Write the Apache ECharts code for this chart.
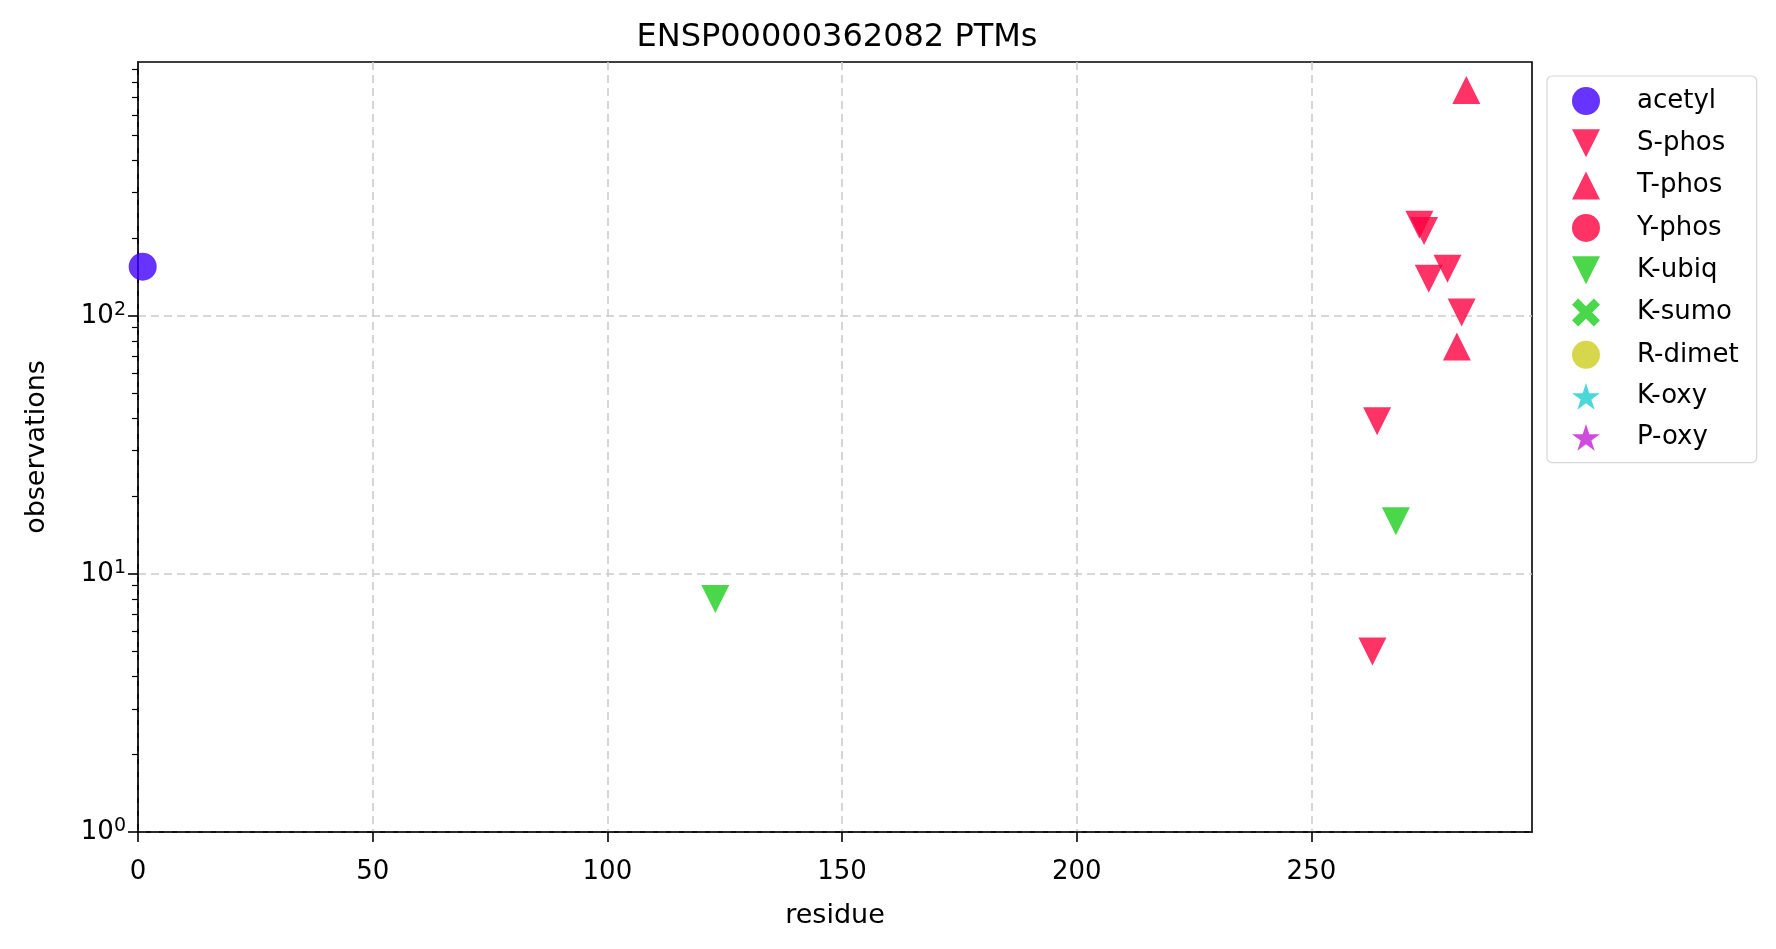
<!DOCTYPE html>
<html>
<head>
<meta charset="utf-8">
<script src="https://cdn.jsdelivr.net/npm/echarts@6/dist/echarts.min.js"></script>
<style>
html,body{margin:0;padding:0;background:#fff;}
#chart{width:1776px;height:949px;}
</style>
</head>
<body>
<div id="chart"></div>
<script>
// ---- data ----
const chartTitle = 'ENSP00000362082 PTMs';
const xLabel = 'residue';
const yLabel = 'observations';
const seriesNames = ['acetyl', 'S-phos', 'T-phos', 'Y-phos', 'K-ubiq', 'K-sumo', 'R-dimet', 'K-oxy', 'P-oxy'];
const acetyl = [[1, 155]];
const sPhos = [[263, 5], [264, 39], [273, 225], [274, 213], [275, 139], [279, 152], [282, 103]];
const tPhos = [[281, 76], [283, 750]];
const yPhos = [];
const kUbiq = [[123, 8], [268, 16]];
const kSumo = [];
const rDimet = [];
const kOxy = [];
const pOxy = [];
const xTicks = [0, 50, 100, 150, 200, 250];
const yMajorTicks = [1, 10, 100];
const yMinorTicks = [2, 3, 4, 5, 6, 7, 8, 9, 20, 30, 40, 50, 60, 70, 80, 90, 200, 300, 400, 500, 600, 700, 800, 900];

// ---- styles ----
const FONT = 'DejaVu Sans';
const triDown = 'path://M0,0 L2,0 L1,2 Z';
const triUp = 'path://M1,0 L2,2 L0,2 Z';
const xMark = 'path://M0.22,0 L0.5,0.28 L0.78,0 L1,0.22 L0.72,0.5 L1,0.78 L0.78,1 L0.5,0.72 L0.22,1 L0,0.78 L0.28,0.5 L0,0.22 Z';
const star = 'path://M50,0 L61.8,36.2 L100,36.2 L69.1,58.5 L80.9,95.1 L50,72.4 L19.1,95.1 L30.9,58.5 L0,36.2 L38.2,36.2 Z';
const seriesDefs = [
  {name: 'acetyl', data: acetyl, symbol: 'circle', color: 'rgba(64,0,255,0.8)', size: 28},
  {name: 'S-phos', data: sPhos, symbol: triDown, color: 'rgba(255,0,64,0.8)', size: 28},
  {name: 'T-phos', data: tPhos, symbol: triUp, color: 'rgba(255,0,64,0.8)', size: 28},
  {name: 'Y-phos', data: yPhos, symbol: 'circle', color: 'rgba(255,0,64,0.8)', size: 28},
  {name: 'K-ubiq', data: kUbiq, symbol: triDown, color: 'rgba(29,206,29,0.8)', size: 28},
  {name: 'K-sumo', data: kSumo, symbol: xMark, color: 'rgba(29,206,29,0.8)', size: 27},
  {name: 'R-dimet', data: rDimet, symbol: 'circle', color: 'rgba(205,205,30,0.8)', size: 28},
  {name: 'K-oxy', data: kOxy, symbol: star, color: 'rgba(30,206,206,0.8)', size: 26},
  {name: 'P-oxy', data: pOxy, symbol: star, color: 'rgba(195,30,213,0.8)', size: 26}
];

const sup = {'0': '⁰', '1': '¹', '2': '²', '3': '³'};
function logLabel(v) {
  const e = Math.round(Math.log10(v));
  return '{b|10}{s|' + e + '}';
}

const chart = echarts.init(document.getElementById('chart'), null, {renderer: 'canvas'});
const option = {
  backgroundColor: '#ffffff',
  animation: false,
  title: {
    text: chartTitle,
    left: 832, top: 17, textAlign: 'center',
    textStyle: {fontFamily: FONT, fontSize: 32, fontWeight: 'normal', color: '#000'}
  },
  grid: {
    left: 138, top: 62, width: 1394, height: 770,
    show: true, borderColor: '#000', borderWidth: 1.6, backgroundColor: 'transparent'
  },
  legend: {
    orient: 'vertical',
    left: 1547, top: 76,
    padding: [11, 18, 12, 25],
    itemWidth: 28, itemHeight: 28, itemGap: 14.3,
    borderColor: '#d6d6d6', borderWidth: 1.2, borderRadius: 5,
    backgroundColor: '#fff',
    textStyle: {fontFamily: FONT, fontSize: 26, color: '#000', padding: [0, 0, 0, 32]},
    data: seriesDefs.map(s => ({name: s.name, icon: s.symbol, itemStyle: {color: s.color, opacity: 1}}))
  },
  xAxis: {
    type: 'value', min: 0, max: 297, interval: 50,
    name: xLabel, nameLocation: 'middle', nameGap: 70,
    nameTextStyle: {fontFamily: FONT, fontSize: 27, color: '#000'},
    axisLine: {show: true, onZero: false, lineStyle: {color: '#000', width: 1.6}},
    axisTick: {show: true, length: 10, lineStyle: {color: '#000', width: 1.6}, customValues: xTicks},
    axisLabel: {fontFamily: FONT, fontSize: 26, color: '#000', margin: 27, customValues: xTicks},
    splitLine: {show: true, lineStyle: {color: '#cccccc', type: [8, 5], width: 1.6}}
  },
  yAxis: [
    {
      type: 'log', logBase: 10, min: 1, max: 962,
      name: yLabel, nameLocation: 'middle', nameGap: 88,
      nameTextStyle: {fontFamily: FONT, fontSize: 27, color: '#000'},
      axisLine: {show: true, onZero: false, lineStyle: {color: '#000', width: 1.6}},
      axisTick: {show: true, length: 10, lineStyle: {color: '#000', width: 1.6}, customValues: yMajorTicks},
      axisLabel: {
        fontFamily: FONT, fontSize: 26, color: '#000', margin: 12, customValues: yMajorTicks, formatter: logLabel,
        rich: {
          b: {fontFamily: FONT, fontSize: 26, color: '#000'},
          s: {fontFamily: FONT, fontSize: 19, color: '#000', padding: [0, 0, 12, 0]}
        }
      },
      splitLine: {show: true, lineStyle: {color: '#cccccc', type: [8, 5], width: 1.6}},
      minorTick: {show: false}
    },
    {
      type: 'log', logBase: 10, min: 1, max: 962, position: 'left',
      axisLine: {show: false},
      axisTick: {show: true, length: 6, lineStyle: {color: '#000', width: 1.2}, customValues: yMinorTicks},
      axisLabel: {show: false},
      splitLine: {show: false}
    }
  ],
  series: seriesDefs.map(s => ({
    name: s.name,
    type: 'scatter',
    data: s.data,
    symbol: s.symbol,
    symbolSize: s.size,
    itemStyle: {color: s.color, opacity: 1},
    emphasis: {disabled: true},
    clip: false
  }))
};
chart.setOption(option);
</script>
</body>
</html>
